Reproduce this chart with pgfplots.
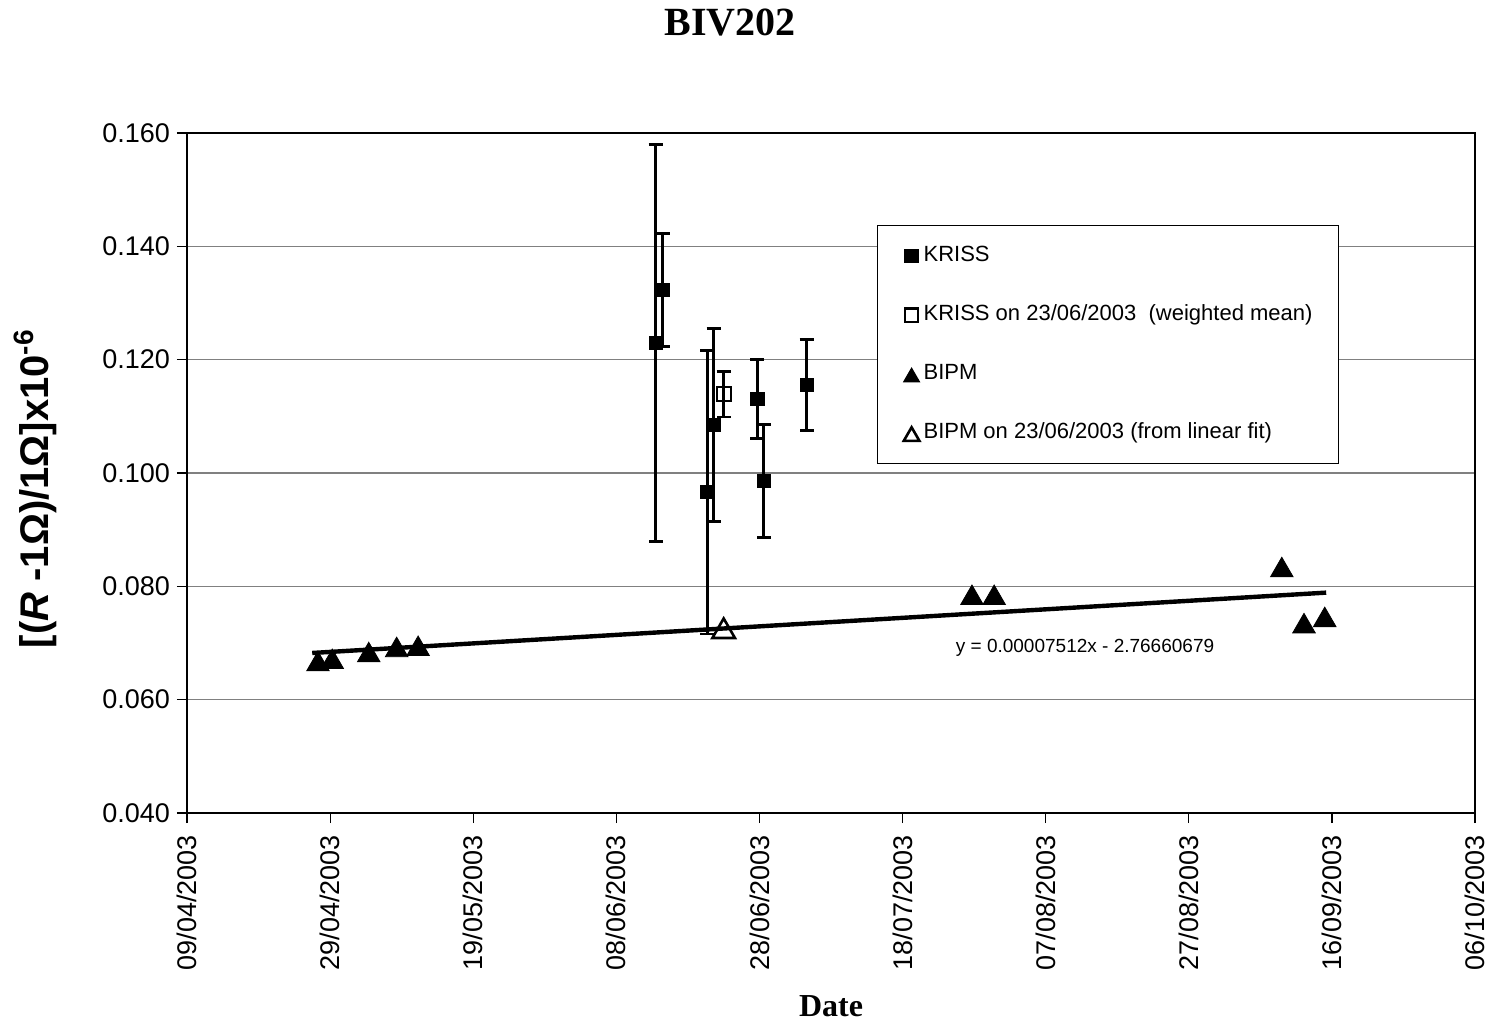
\documentclass[border=0pt]{standalone}
\usepackage{pgfplots}
\pgfplotsset{compat=1.18}
\usepackage{fontspec}
\setmainfont{Liberation Sans}
\newfontfamily\timesfont{Liberation Serif}

\pgfplotsset{
  small legend/.style={legend image code/.code={\path[draw=none,fill=none] (0pt,0pt) -- (10pt,0pt); \draw[##1, mark size=#1] plot coordinates {(5pt,0pt)};}}}

\pgfplotstableread{
x y e
65.5 0.1229 0.035
66.5 0.1323 0.010
72.7 0.0966 0.025
73.6 0.1085 0.017
79.7 0.1131 0.007
80.6 0.0986 0.010
86.6 0.1155 0.008
}\kriss
\pgfplotstableread{
x y e
75.0 0.1139 0.004
}\krissmean
\pgfplotstableread{
x y
18.3 0.0668
20.3 0.0672
25.4 0.0684
29.3 0.0693
32.3 0.0695
109.7 0.0785
112.8 0.0785
153.0 0.0834
156.1 0.0735
159.0 0.0746
}\bipm
\pgfplotstableread{
x y
75.0 0.0726
}\bipmfit

\begin{document}
\begin{tikzpicture}
\useasboundingbox (-93.5pt,-105pt) rectangle (658pt,406.5pt);
\begin{axis}[
  scale only axis, width=644pt, height=340pt,
  xmin=0, xmax=180, ymin=0.04, ymax=0.16,
  xtick={0,20,40,60,80,100,120,140,160,180},
  xticklabels={09/04/2003,29/04/2003,19/05/2003,08/06/2003,28/06/2003,18/07/2003,07/08/2003,27/08/2003,16/09/2003,06/10/2003},
  ytick={0.04,0.06,0.08,0.10,0.12,0.14,0.16},
  yticklabel style={/pgf/number format/.cd, fixed, fixed zerofill, precision=3},
  /pgf/number format/assume math mode=true,
  tick label style={font=\fontsize{13.5}{16}\selectfont},
  xticklabel style={yshift=-2.5pt, rotate=90, anchor=east},
  tick align=outside, major tick length=5pt,
  xtick pos=bottom, ytick pos=left,
  ymajorgrids, major grid style={gray, line width=0.7pt},
  axis line style={black, line width=0.6pt},
  tick style={black, line width=0.6pt},
  legend style={at={(axis description cs:0.5357,0.8647)}, anchor=north west,
    draw=black, line width=0.6pt, inner xsep=12pt, inner ysep=9pt,
    font=\fontsize{11}{13}\selectfont, row sep=17pt,
    nodes={inner sep=1pt, text height=8pt, text depth=2.5pt}},
  legend cell align=left,
  clip=false,
]
\addplot[black, line width=2.2pt, forget plot] coordinates {(17.5,0.06824) (159.2,0.07889)};
\addplot[only marks, mark=square*, mark size=3.3pt, black, small legend=3.3pt,
  error bars/.cd, y dir=both, y explicit, error mark=|,
  error bar style={line width=1.4pt, black}, error mark options={mark size=3.5pt, line width=1.4pt, black}]
  table[x=x, y=y, y error=e] {\kriss};
\addlegendentry{KRISS}
\addplot[only marks, mark=square, mark size=3.5pt, black, mark options={fill=white, line width=1.1pt}, small legend=3.3pt,
  error bars/.cd, y dir=both, y explicit, error mark=|,
  error bar style={line width=1.4pt, black}, error mark options={mark size=3.5pt, line width=1.4pt, black}]
  table[x=x, y=y, y error=e] {\krissmean};
\addlegendentry{KRISS on 23/06/2003\ \ (weighted mean)}
\addplot[only marks, mark=triangle*, mark size=6.5pt, black, mark options={yshift=-1.6pt}, small legend=4.5pt]
  table[x=x, y=y] {\bipm};
\addlegendentry{BIPM}
\addplot[only marks, mark=triangle, mark size=6.5pt, black, mark options={yshift=-1.6pt, fill=white, line width=1.3pt}, small legend=4.5pt]
  table[x=x, y=y] {\bipmfit};
\addlegendentry{BIPM on 23/06/2003 (from linear fit)}
\node[font=\fontsize{9.5}{11}\selectfont] at (axis cs:125.5,0.0691) {y = 0.00007512x - 2.76660679};
\node[font=\timesfont\bfseries\fontsize{20}{24}\selectfont] at (axis description cs:0.4216,1.1618) {BIV202};
\node[font=\timesfont\bfseries\fontsize{16}{19}\selectfont] at (axis description cs:0.5,-0.2838) {Date};
\node[font=\bfseries\fontsize{20}{24}\selectfont, rotate=90] at (axis description cs:-0.118,0.477) {[(\textit{R} -1Ω)/1Ω]x10\textsuperscript{-6}};
\end{axis}
\end{tikzpicture}
\end{document}
